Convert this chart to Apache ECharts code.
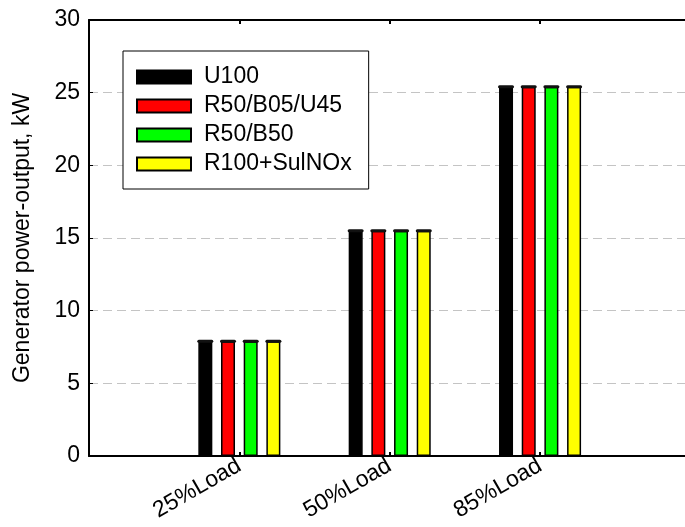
<!DOCTYPE html>
<html>
<head>
<meta charset="utf-8">
<script src="https://cdn.jsdelivr.net/npm/echarts@6/dist/echarts.min.js"></script>
<style>
html,body{margin:0;padding:0;background:#fff;overflow:hidden;width:685px;height:527px;}
#chart{width:693px;height:527px;}
</style>
</head>
<body>
<div id="chart"></div>
<script>
const categories = ['', '25%Load', '50%Load', '85%Load', ''];
const seriesNames = ['U100', 'R50/B05/U45', 'R50/B50', 'R100+SulNOx'];
const u100 = [null, 7.9, 15.5, 25.4, null];
const r50b05u45 = [null, 7.9, 15.5, 25.4, null];
const r50b50 = [null, 7.9, 15.5, 25.4, null];
const r100sulnox = [null, 7.9, 15.5, 25.4, null];
const yTicks = [0, 5, 10, 15, 20, 25, 30];
const colors = ['#000000', '#ff0000', '#00ff00', '#ffff00'];

const font = 'Liberation Sans, Arial, sans-serif';
const chart = echarts.init(document.getElementById('chart'), null, {renderer: 'canvas'});
const values = [u100, r50b05u45, r50b50, r100sulnox];
const BW = 14, GAP = 8.7;

const barSeries = seriesNames.map((n, i) => ({
  name: n, type: 'bar', data: values[i],
  barWidth: BW, barGap: (GAP / BW * 100).toFixed(0) + '%',
  itemStyle: {color: colors[i], borderColor: '#000', borderWidth: 1.5},
  emphasis: {disabled: true}
}));

// dark rounded caps at bar tops (drawn through the axis scale)
const capSeries = seriesNames.map((n, i) => ({
  type: 'custom', name: n + ' cap', z: 5,
  data: values[i].map((v, k) => v == null ? null : [k, v]).filter(d => d),
  renderItem: function (params, api) {
    const p = api.coord([api.value(0), api.value(1)]);
    const off = (i - 1.5) * (BW + GAP);
    return {
      type: 'rect',
      shape: {x: p[0] + off - BW / 2 - 1, y: p[1] - 1.5, width: BW + 2, height: 3, r: 1.5},
      style: {fill: '#111'}
    };
  },
  silent: true, legendHoverLink: false
}));

chart.setOption({
  animation: false,
  backgroundColor: '#fff',
  grid: {left: 89, top: 20, bottom: 71, right: 0, containLabel: false},
  legend: {
    orient: 'vertical',
    left: 123, top: 51,
    padding: [14.5, 17, 13.5, 13],
    itemWidth: 54, itemHeight: 13,
    itemGap: 6,
    icon: 'rect',
    backgroundColor: '#fff',
    borderColor: '#000', borderWidth: 1,
    textStyle: {fontFamily: font, fontSize: 23, color: '#000', lineHeight: 23, padding: [0, 0, 0, 8]},
    data: seriesNames
  },
  xAxis: [{
    type: 'category', data: categories, boundaryGap: false,
    axisLine: {lineStyle: {color: '#000', width: 2}},
    axisTick: {inside: true, length: 4, lineStyle: {color: '#000', width: 2},
      interval: function (i) { return i > 0 && i < 4; }},
    axisLabel: {rotate: 30, fontFamily: font, fontSize: 23, color: '#000', margin: 8, interval: 0},
    splitLine: {show: false}
  }, {
    type: 'category', data: categories, boundaryGap: false, position: 'top',
    axisLine: {lineStyle: {color: '#000', width: 2}},
    axisTick: {inside: true, length: 4, lineStyle: {color: '#000', width: 2},
      interval: function (i) { return i > 0 && i < 4; }},
    axisLabel: {show: false}
  }],
  yAxis: {
    type: 'value', min: yTicks[0], max: yTicks[yTicks.length - 1], interval: 5,
    name: 'Generator power-output, kW', nameLocation: 'middle', nameGap: 55,
    nameTextStyle: {fontFamily: font, fontSize: 23, color: '#000'},
    axisLine: {show: true, lineStyle: {color: '#000', width: 2}},
    axisTick: {show: true, inside: true, length: 4, lineStyle: {color: '#000', width: 1}},
    axisLabel: {fontFamily: font, fontSize: 23, color: '#000', margin: 9},
    splitLine: {show: true, lineStyle: {color: '#c4c4c4', width: 1, type: [9, 5]}}
  },
  series: barSeries.concat(capSeries)
});
</script>
</body>
</html>
